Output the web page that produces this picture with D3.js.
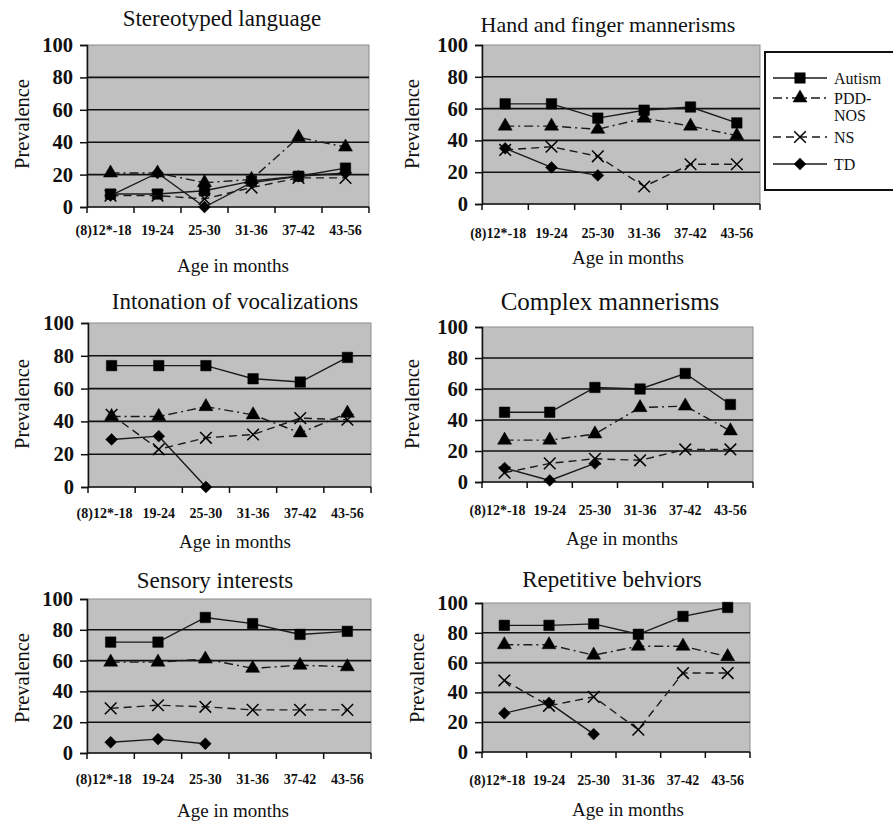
<!DOCTYPE html>
<html><head><meta charset="utf-8">
<script src="https://cdn.jsdelivr.net/npm/d3@7"></script>
<style>body{margin:0;background:#fff} svg{display:block}</style>
</head><body><svg id="c" width="893" height="823"></svg>
<script>
// ---------- DATA ----------
const categories = ["(8)12*-18", "19-24", "25-30", "31-36", "37-42", "43-56"];
const seriesNames = ["Autism", "PDD-NOS", "NS", "TD"];
const yTicks = [0, 20, 40, 60, 80, 100];
const panelTitles = ["Stereotyped language", "Hand and finger mannerisms", "Intonation of vocalizations",
                     "Complex mannerisms", "Sensory interests", "Repetitive behviors"];
const xAxisTitle = "Age in months";
const yAxisTitle = "Prevalence";

// each: [Autism, PDD-NOS, NS, TD]
const stereotypedLanguage = [
  [8, 8, 10, 16, 19, 24],
  [21, 21, 15, 17, 43, 37],
  [7, 7, 5, 12, 18, 18],
  [7, 21, 0, 15, 19, 21]
];
const handFingerMannerisms = [
  [63, 63, 54, 59, 61, 51],
  [49, 49, 47, 54, 49, 43],
  [34, 36, 30, 11, 25, 25],
  [35, 23, 18, null, null, null]
];
const intonationVocalizations = [
  [74, 74, 74, 66, 64, 79],
  [43, 43, 49, 44, 33, 45],
  [44, 23, 30, 32, 42, 41],
  [29, 31, 0, null, null, null]
];
const complexMannerisms = [
  [45, 45, 61, 60, 70, 50],
  [27, 27, 31, 48, 49, 33],
  [6, 12, 15, 14, 21, 21],
  [9, 1, 12, null, null, null]
];
const sensoryInterests = [
  [72, 72, 88, 84, 77, 79],
  [59, 59, 61, 55, 57, 56],
  [29, 31, 30, 28, 28, 28],
  [7, 9, 6, null, null, null]
];
const repetitiveBehaviors = [
  [85, 85, 86, 79, 91, 97],
  [72, 72, 65, 71, 71, 64],
  [48, 31, 37, 15, 53, 53],
  [26, 33, 12, null, null, null]
];
const panelData = [stereotypedLanguage, handFingerMannerisms, intonationVocalizations,
                   complexMannerisms, sensoryInterests, repetitiveBehaviors];

// ---------- LAYOUT ----------
const layout = [
  {x0: 87,  x1: 369, y0: 207, y1: 45,  tx: 222, ty: 26,  tfs: 23, xly: 235, axy: 272, axx: 233, prx: 22,  pry: 124},
  {x0: 482, x1: 760, y0: 204, y1: 45,  tx: 608, ty: 32,  tfs: 22, xly: 238, axy: 264, axx: 628, prx: 412, pry: 124},
  {x0: 88,  x1: 371, y0: 487, y1: 323, tx: 235, ty: 309, tfs: 23, xly: 518, axy: 548, axx: 235, prx: 22,  pry: 404},
  {x0: 482, x1: 753, y0: 482, y1: 327, tx: 610, ty: 310, tfs: 25, xly: 515, axy: 545, axx: 622, prx: 412, pry: 404},
  {x0: 87,  x1: 371, y0: 753, y1: 599, tx: 215, ty: 588, tfs: 23, xly: 784, axy: 817, axx: 233, prx: 22,  pry: 678},
  {x0: 482, x1: 750, y0: 752, y1: 603, tx: 612, ty: 587, tfs: 23, xly: 785, axy: 816, axx: 628, prx: 417, pry: 678}
];

const serif = "'Liberation Serif','Times New Roman',serif";
const ink = "#111";
const diamond = {draw(ctx, size) { const r = Math.sqrt(size / 2); ctx.moveTo(0, -r); ctx.lineTo(r, 0); ctx.lineTo(0, r); ctx.lineTo(-r, 0); ctx.closePath(); }};
const styles = [
  {dash: null,            sym: d3.symbolSquare,   size: 110, fill: true},
  {dash: "9,4,2,4",       sym: d3.symbolTriangle, size: 85,  fill: true},
  {dash: "8,5",           sym: d3.symbolX,        size: 90,  fill: false},
  {dash: null,            sym: diamond,           size: 70,  fill: true}
];

const svg = d3.select("#c");

layout.forEach((L, pi) => {
  const data = panelData[pi];
  const g = svg.append("g");
  const x = d3.scaleBand().domain(categories).range([L.x0, L.x1]);
  const y = d3.scaleLinear().domain([0, 100]).range([L.y0, L.y1]);
  const cx = c => x(c) + x.bandwidth() / 2;

  g.append("rect").attr("x", L.x0).attr("y", L.y1)
    .attr("width", L.x1 - L.x0).attr("height", L.y0 - L.y1)
    .attr("fill", "#c0c0c0").attr("stroke", "#8c8c8c").attr("stroke-width", 1);

  // gridlines
  g.selectAll(".grid").data(yTicks.filter(t => t > 0 && t < 100)).join("line")
    .attr("x1", L.x0).attr("x2", L.x1)
    .attr("y1", d => y(d)).attr("y2", d => y(d))
    .attr("stroke", ink).attr("stroke-width", 1.6);

  // y axis
  const ya = g.append("g").attr("transform", `translate(${L.x0},0)`)
    .call(d3.axisLeft(y).tickValues(yTicks).tickSize(7).tickPadding(7));
  ya.select(".domain").attr("stroke", ink).attr("stroke-width", 1.5);
  ya.selectAll(".tick line").attr("stroke", ink).attr("stroke-width", 1.5);
  ya.selectAll(".tick text").attr("font-family", serif).attr("font-size", 20.5)
    .attr("font-weight", "bold").attr("fill", ink);

  // x axis (ticks at category boundaries)
  g.append("line").attr("x1", L.x0).attr("x2", L.x1).attr("y1", y(0)).attr("y2", y(0))
    .attr("stroke", ink).attr("stroke-width", 1.5);
  const edges = categories.map(c => x(c)).concat([L.x1]);
  g.selectAll(".xt").data(edges).join("line")
    .attr("x1", d => d).attr("x2", d => d).attr("y1", y(0)).attr("y2", y(0) + 6)
    .attr("stroke", ink).attr("stroke-width", 1.5);
  g.selectAll(".xl").data(categories).join("text")
    .attr("x", (c, i) => cx(c) - (i === 0 ? 7 : 0)).attr("y", L.xly)
    .attr("text-anchor", "middle").attr("font-family", serif).attr("font-size", 14)
    .attr("font-weight", "bold").attr("fill", ink).text(c => c);

  // series
  data.forEach((vals, si) => {
    const st = styles[si];
    const pts = categories.map((c, i) => ({c, v: vals[i]}));
    const line = d3.line().defined(d => d.v != null).x(d => cx(d.c)).y(d => y(d.v));
    g.append("path").datum(pts).attr("d", line).attr("fill", "none")
      .attr("stroke", "#1a1a1a").attr("stroke-width", 1.4)
      .attr("stroke-dasharray", st.dash);
    g.selectAll(null).data(pts.filter(d => d.v != null)).join("path")
      .attr("transform", d => `translate(${cx(d.c)},${y(d.v)})`)
      .attr("d", d3.symbol().type(st.sym).size(st.size))
      .attr("fill", st.fill ? "#000" : "none")
      .attr("stroke", "#000").attr("stroke-width", st.fill ? 0.5 : 1.5);
  });

  // titles
  g.append("text").attr("x", L.tx).attr("y", L.ty).attr("text-anchor", "middle")
    .attr("font-family", serif).attr("font-size", L.tfs).attr("fill", ink).text(panelTitles[pi]);
  g.append("text").attr("x", L.axx).attr("y", L.axy).attr("text-anchor", "middle")
    .attr("font-family", serif).attr("font-size", 19).attr("fill", ink).text(xAxisTitle);
  g.append("text").attr("transform", `translate(${L.prx},${L.pry}) rotate(-90)`)
    .attr("text-anchor", "middle").attr("dominant-baseline", "central")
    .attr("font-family", serif).attr("font-size", 20.5).attr("fill", ink).text(yAxisTitle);
});

// ---------- LEGEND ----------
const lg = svg.append("g");
lg.append("rect").attr("x", 765).attr("y", 52).attr("width", 140).attr("height", 138)
  .attr("fill", "#fff").attr("stroke", ink).attr("stroke-width", 2);
const legendY = [78, 98, 137, 164];
seriesNames.forEach((name, si) => {
  const st = styles[si];
  const ly = legendY[si];
  lg.append("line").attr("x1", 773).attr("x2", 827).attr("y1", ly).attr("y2", ly)
    .attr("stroke", "#1a1a1a").attr("stroke-width", 1.4).attr("stroke-dasharray", st.dash);
  lg.append("path").attr("transform", `translate(800,${ly})`)
    .attr("d", d3.symbol().type(st.sym).size(st.size))
    .attr("fill", st.fill ? "#000" : "none").attr("stroke", "#000")
    .attr("stroke-width", st.fill ? 0.5 : 1.5);
  const lines = name === "PDD-NOS" ? ["PDD-", "NOS"] : [name];
  lines.forEach((t, k) => {
    lg.append("text").attr("x", 834).attr("y", ly + k * 17).attr("dominant-baseline", "central")
      .attr("font-family", serif).attr("font-size", 16).attr("fill", ink).text(t);
  });
});
</script>
</body></html>
